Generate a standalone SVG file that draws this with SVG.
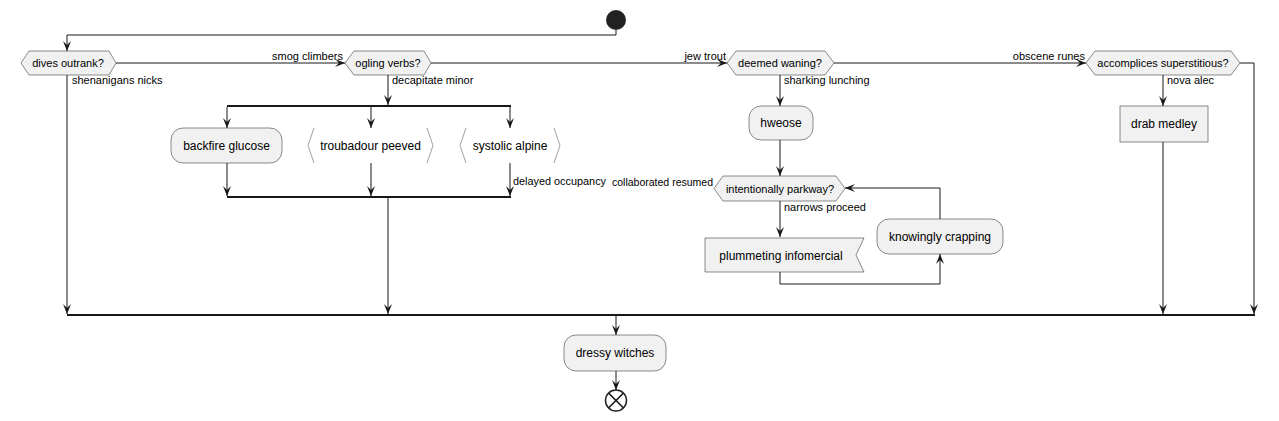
<svg xmlns="http://www.w3.org/2000/svg" width="1279" height="421" viewBox="0 0 1279 421">
<defs>
<marker id="ah" markerWidth="10" markerHeight="10" viewBox="0 0 10 10" refX="10" refY="5" orient="auto" markerUnits="userSpaceOnUse">
<path d="M0,1 L10,5 L0,9 L4,5 Z" fill="#181818"/>
</marker>
</defs>
<style>
.n{fill:#F1F1F1;stroke:#181818;stroke-width:0.5}
.c{fill:none;stroke:#181818;stroke-width:1}
.bar{fill:none;stroke:#181818;stroke-width:2}
.t{font-family:"Liberation Sans",Arial,sans-serif;font-size:12px;fill:#000;text-anchor:middle}
.d{font-family:"Liberation Sans",Arial,sans-serif;font-size:11px;fill:#000;text-anchor:middle}
.l{font-family:"Liberation Sans",Arial,sans-serif;font-size:11px;fill:#000}
.r{font-family:"Liberation Sans",Arial,sans-serif;font-size:11px;fill:#000;text-anchor:end}
.ch{fill:none;stroke:#888;stroke-width:0.8}
</style>
<rect width="1279" height="421" fill="#FFFFFF"/>
<g id="connectors">
<path class="c" d="M616,30 V35 H67 V51" marker-end="url(#ah)"/>
<path class="c" d="M116,63 H345" marker-end="url(#ah)"/>
<path class="c" d="M431,63 H727" marker-end="url(#ah)"/>
<path class="c" d="M834,63 H1086" marker-end="url(#ah)"/>
<path class="c" d="M1240,63 H1254 V314" marker-end="url(#ah)"/>
<path class="c" d="M67,75 V314" marker-end="url(#ah)"/>
<path class="c" d="M388,75 V105" marker-end="url(#ah)"/>
<path class="bar" d="M227,106 H511"/>
<path class="c" d="M227,107 V128" marker-end="url(#ah)"/>
<path class="c" d="M371,107 V128" marker-end="url(#ah)"/>
<path class="c" d="M510,107 V128" marker-end="url(#ah)"/>
<path class="c" d="M227,163 V196" marker-end="url(#ah)"/>
<path class="c" d="M371,163 V196" marker-end="url(#ah)"/>
<path class="c" d="M510,163 V196" marker-end="url(#ah)"/>
<path class="bar" d="M227,197 H511"/>
<path class="c" d="M388,198 V314" marker-end="url(#ah)"/>
<path class="c" d="M780,75 V106" marker-end="url(#ah)"/>
<path class="c" d="M780,140 V176" marker-end="url(#ah)"/>
<path class="c" d="M780,201 V237" marker-end="url(#ah)"/>
<path class="c" d="M780,272 V284 H940 V254" marker-end="url(#ah)"/>
<path class="c" d="M940,219 V188 H845" marker-end="url(#ah)"/>
<path class="c" d="M1163,75 V106" marker-end="url(#ah)"/>
<path class="c" d="M1163,142 V314" marker-end="url(#ah)"/>
<path class="bar" d="M67,315 H1255"/>
<path class="c" d="M616,316 V335" marker-end="url(#ah)"/>
<path class="c" d="M616,371 V390" marker-end="url(#ah)"/>
<text class="r" x="343" y="60">smog climbers</text>
<text class="r" x="726" y="60">jew trout</text>
<text class="r" x="1085" y="60">obscene runes</text>
<text class="l" x="72" y="84">shenanigans nicks</text>
<text class="l" x="392" y="84">decapitate minor</text>
<text class="l" x="784" y="84">sharking lunching</text>
<text class="l" x="1167" y="84">nova alec</text>
<text class="l" x="513" y="185" textLength="93" lengthAdjust="spacingAndGlyphs">delayed occupancy</text>
<text class="l" x="612" y="186" textLength="101" lengthAdjust="spacingAndGlyphs">collaborated resumed</text>
<text class="l" x="784" y="211">narrows proceed</text>
</g>
<g id="start"><circle cx="616" cy="20" r="10" fill="#222222"/></g>
<g id="dives-outrank">
<polygon class="n" points="21,63 29,51 109,51 116,63 109,75 29,75"/>
<text class="d" x="68" y="67">dives outrank?</text>
</g>
<g id="ogling-verbs">
<polygon class="n" points="345,63 354,51 424,51 431,63 424,75 354,75"/>
<text class="d" x="388" y="67">ogling verbs?</text>
</g>
<g id="deemed-waning">
<polygon class="n" points="727,63 736,51 825,51 834,63 825,75 736,75"/>
<text class="d" x="780" y="67">deemed waning?</text>
</g>
<g id="accomplices">
<polygon class="n" points="1086,63 1095,51 1231,51 1240,63 1231,75 1095,75"/>
<text class="d" x="1163" y="67">accomplices superstitious?</text>
</g>
<g id="backfire-glucose">
<rect class="n" x="171" y="128" width="111" height="35" rx="12"/>
<text class="t" x="226.5" y="150">backfire glucose</text>
</g>
<g id="troubadour-peeved">
<path class="ch" d="M314,128 L308,145.5 L314,163 M427,128 L433,145.5 L427,163"/>
<text class="t" x="370.5" y="150">troubadour peeved</text>
</g>
<g id="systolic-alpine">
<path class="ch" d="M466,128 L460,145.5 L466,163 M554,128 L560,145.5 L554,163"/>
<text class="t" x="510" y="150">systolic alpine</text>
</g>
<g id="hweose">
<rect class="n" x="749" y="106" width="64" height="34" rx="12"/>
<text class="t" x="781" y="127">hweose</text>
</g>
<g id="intentionally-parkway">
<polygon class="n" points="714,188.5 723,176 836,176 845,188.5 836,201 723,201"/>
<text class="d" x="780" y="192.5">intentionally parkway?</text>
</g>
<g id="plummeting-infomercial">
<polygon class="n" points="705,238 864,238 856,255 864,272 705,272"/>
<text class="t" x="781" y="259.5">plummeting infomercial</text>
</g>
<g id="knowingly-crapping">
<rect class="n" x="877" y="219" width="126" height="35" rx="12"/>
<text class="t" x="940" y="241">knowingly crapping</text>
</g>
<g id="drab-medley">
<rect class="n" x="1120" y="106" width="88" height="36"/>
<text class="t" x="1164" y="128">drab medley</text>
</g>
<g id="dressy-witches">
<rect class="n" x="564" y="335" width="102" height="36" rx="12"/>
<text class="t" x="615" y="357">dressy witches</text>
</g>
<g id="end">
<circle cx="616" cy="400.5" r="10.5" fill="#FFFFFF" stroke="#222222" stroke-width="1.5"/>
<path d="M608.6,393.1 L623.4,407.9 M623.4,393.1 L608.6,407.9" stroke="#222222" stroke-width="1.5"/>
</g>
</svg>
